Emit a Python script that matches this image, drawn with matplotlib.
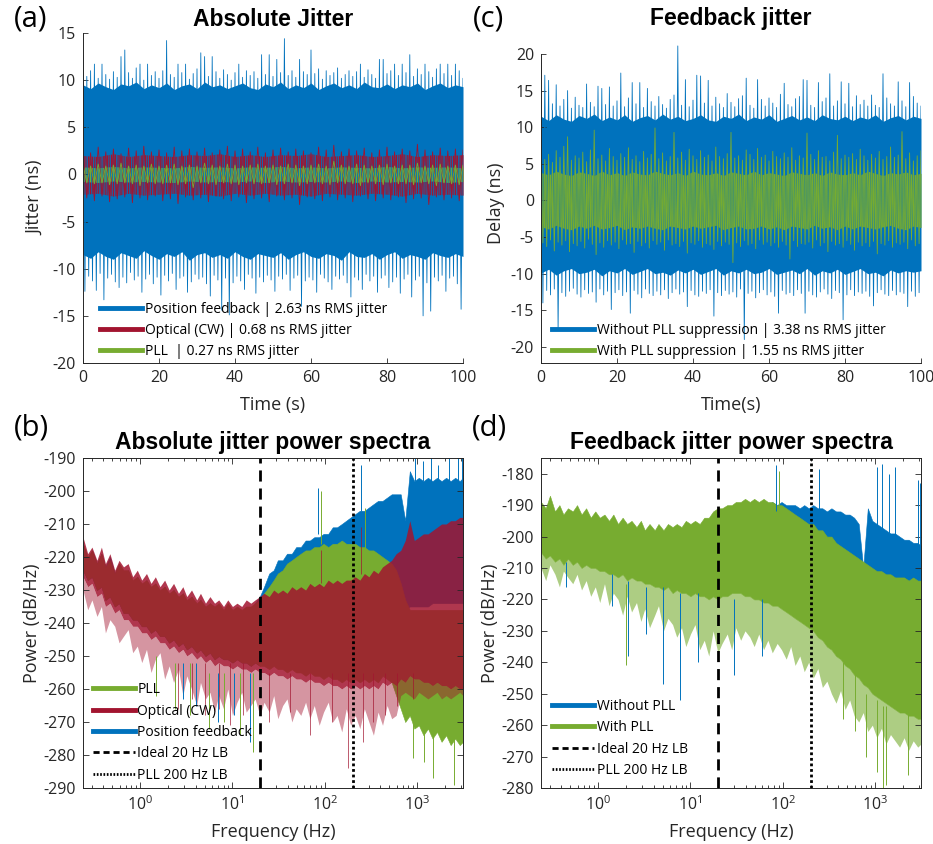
import numpy as np
import matplotlib
matplotlib.use("Agg")
import matplotlib.pyplot as plt
from matplotlib.lines import Line2D

plt.rcParams['font.family'] = ['Open Sans', 'DejaVu Sans']
plt.rcParams['mathtext.default'] = 'regular'
plt.rcParams['axes.unicode_minus'] = False

BLUE = '#0072BD'
RED = '#A2142F'
GREEN = '#77AC30'
AXC = '#262626'

# ---------------- (a) absolute jitter, peak values per time bin (ns)
a_pos_hi = [12.6, 10.4, 11.0, 11.7, 10.2, 11.7, 10.6, 10.1, 10.9, 10.3,
            12.5, 13.2, 10.8, 10.2, 11.3, 11.7, 10.0, 11.7, 10.5, 10.9,
            10.2, 11.0, 14.2, 10.6, 10.3, 11.7, 10.8, 11.7, 10.1, 10.7,
            11.2, 12.9, 12.5, 10.4, 12.5, 10.9, 10.2, 11.1, 10.6, 10.0,
            10.8, 11.7, 10.3, 11.0, 10.5, 10.9, 10.2, 12.7, 10.6, 12.7,
            10.4, 12.2, 10.8, 14.4, 10.5, 11.0, 10.3, 12.2, 10.9, 10.6,
            13.2, 10.7, 11.2, 10.1, 11.0, 10.5, 10.8, 11.3, 10.2, 10.6,
            11.0, 10.4, 10.9, 11.7, 10.3, 11.1, 10.6, 10.2, 12.2, 12.2,
            10.7, 11.0, 11.7, 10.5, 11.7, 10.8, 12.7, 10.4, 11.2, 10.6,
            11.7, 10.9, 10.3, 11.2, 11.7, 10.7, 11.7, 10.5, 11.7, 11.0, 10.2]
a_pos_lo = [-12.4, -10.8, -11.3, -12.3, -10.5, -13.3, -11.0, -10.6, -11.4, -12.0,
            -10.9, -11.5, -10.4, -11.2, -10.8, -12.5, -11.1, -10.6, -11.6, -10.9,
            -12.8, -10.7, -11.3, -10.5, -12.2, -11.0, -10.8, -12.5, -11.4, -10.6,
            -11.1, -10.9, -11.6, -12.9, -10.7, -11.2, -14.4, -11.0, -14.9, -11.5,
            -10.8, -11.3, -12.2, -10.6, -11.0, -12.6, -10.9, -11.4, -10.7, -11.2,
            -12.4, -10.8, -11.1, -10.6, -12.3, -11.0, -10.7, -14.0, -11.3, -10.9,
            -11.2, -12.5, -10.6, -11.0, -11.4, -12.2, -10.8, -11.1, -10.7, -11.5,
            -13.0, -10.9, -11.2, -12.2, -10.6, -11.3, -10.8, -12.5, -11.0, -10.7,
            -12.0, -11.4, -10.9, -12.6, -11.1, -10.6, -13.0, -11.2, -10.8, -15.0,
            -11.5, -14.5, -10.9, -11.3, -10.7, -12.4, -11.0, -10.8, -11.6, -14.3, -10.9]
a_pos_core_hi = [9.5, 9.1, 9.7, 9.3, 9.0, 9.6, 9.4, 9.8, 9.1, 9.5,
                 9.2, 9.7, 9.0, 9.4, 9.6, 9.1, 9.8, 9.3, 9.5, 9.1,
                 9.4, 9.7, 9.2, 9.0, 9.6, 9.3, 9.8, 9.1, 9.5, 9.2,
                 9.7, 9.0, 9.4, 9.7, 9.2, 9.5, 9.1, 9.8, 9.3, 9.2,
                 9.6, 9.1, 9.5, 9.3, 9.7, 9.0, 9.4, 9.7, 9.2, 9.5, 9.3]
a_pos_core_lo = [-8.5, -8.9, -8.2, -8.7, -9.0, -8.3, -8.6, -8.9, -8.1, -8.6,
                 -9.0, -8.4, -8.7, -8.2, -9.1, -8.5, -8.3, -8.8, -8.5, -8.9,
                 -8.2, -8.7, -9.0, -8.4, -8.6, -8.8, -8.3, -9.0, -8.5, -8.2,
                 -8.7, -8.9, -8.4, -8.6, -9.1, -8.2, -8.7, -8.8, -8.4, -9.0,
                 -8.5, -8.2, -8.9, -8.5, -8.7, -9.0, -8.3, -8.6, -8.8, -8.4, -8.7]

a_opt_hi = [2.6, 2.3, 2.9, 2.4, 2.7, 2.2, 2.8, 2.5, 3.0, 2.4,
            2.6, 2.3, 2.9, 2.5, 2.7, 2.4, 2.8, 2.3, 2.6, 3.0,
            2.5, 2.7, 2.4, 2.9, 2.3, 2.6, 2.8, 2.4, 2.7, 2.5,
            2.3, 2.9, 2.6, 3.1, 2.4, 2.7, 2.5, 2.8, 2.3, 2.6,
            2.9, 2.4, 2.7, 2.5, 3.2, 2.6, 2.4, 2.8, 2.5, 2.7, 2.6]
a_opt_lo = [-2.5, -2.8, -2.3, -2.9, -2.6, -2.4, -3.0, -2.5, -2.7, -2.3,
            -2.8, -2.6, -3.1, -2.4, -2.7, -2.5, -2.9, -2.3, -2.6, -2.8,
            -2.4, -3.0, -2.6, -2.5, -2.9, -2.3, -2.7, -2.5, -3.2, -2.4,
            -2.6, -2.8, -2.4, -2.7, -2.5, -2.9, -2.3, -2.6, -2.8, -2.5,
            -2.7, -2.4, -3.0, -2.6, -2.5, -3.2, -2.4, -2.7, -2.5, -2.8, -2.6]
a_opt_core_hi = [2.0, 1.9, 2.2, 1.9, 2.1, 2.0, 1.9, 2.1, 2.0, 2.2, 1.9, 2.1, 1.9,
                 2.1, 2.0, 2.2, 1.9, 2.0, 2.1, 1.9, 2.0, 2.2, 1.9, 2.1, 2.0, 2.1]
a_opt_core_lo = [-2.1, -2.0, -2.3, -2.0, -2.2, -2.1, -2.0, -2.2, -2.1, -2.3, -2.0, -2.2, -2.0,
                 -2.2, -2.1, -2.3, -2.0, -2.1, -2.2, -2.0, -2.1, -2.3, -2.0, -2.2, -2.1, -2.2]

a_pll_hi = [1.0, 0.9, 1.1, 0.9, 1.0, 1.2, 0.9, 1.0, 0.9, 1.1,
            0.9, 1.0, 1.1, 0.9, 1.0, 0.9, 1.2, 1.0, 0.9, 1.1,
            1.0, 0.9, 1.0, 1.1, 0.9, 1.0, 0.9, 1.1, 1.0, 0.9,
            1.0, 1.1, 0.9, 1.4, 1.0, 0.9, 1.1, 1.0, 0.9, 1.0,
            1.1, 0.9, 1.0, 1.0, 1.2, 0.9, 1.0, 1.1, 0.9, 1.0, 1.0]
a_pll_lo = [-0.9, -1.0, -0.9, -1.1, -1.0, -0.9, -1.0, -1.2, -0.9, -1.0,
            -1.0, -0.9, -1.1, -1.0, -1.4, -0.9, -1.0, -1.1, -0.9, -1.0,
            -1.1, -0.9, -1.0, -1.0, -0.9, -1.1, -1.0, -0.9, -1.2, -1.0,
            -0.9, -1.0, -1.1, -0.9, -1.0, -1.0, -1.2, -0.9, -1.0, -1.1,
            -0.9, -1.0, -1.0, -1.1, -0.9, -1.0, -1.2, -0.9, -1.0, -1.1, -1.0]
a_pll_core_hi = [0.8, 0.7, 0.85, 0.7, 0.8, 0.75, 0.7, 0.85, 0.75, 0.8, 0.7, 0.8, 0.75,
                 0.85, 0.7, 0.8, 0.7, 0.8, 0.75, 0.7, 0.85, 0.7, 0.8, 0.75, 0.8, 0.7]
a_pll_core_lo = [-0.75, -0.85, -0.7, -0.8, -0.75, -0.8, -0.85, -0.7, -0.8, -0.75, -0.8, -0.7, -0.85,
                 -0.7, -0.8, -0.75, -0.8, -0.7, -0.85, -0.7, -0.8, -0.75, -0.8, -0.7, -0.85, -0.75]

a_labels = ["Position feedback | 2.63 ns RMS jitter",
            "Optical (CW) | 0.68 ns RMS jitter",
            "PLL  | 0.27 ns RMS jitter"]

# ---------------- (c) feedback jitter (ns)
c_nopll_hi = [18.8, 17.1, 16.4, 13.2, 15.8, 12.9, 13.8, 15.0, 12.6, 14.1,
              13.0, 12.7, 15.9, 13.4, 12.8, 15.6, 15.3, 13.1, 15.5, 12.9,
              13.6, 17.4, 12.8, 14.0, 16.1, 13.2, 16.1, 12.7, 15.3, 13.5,
              12.9, 14.2, 13.1, 12.6, 13.8, 14.4, 21.1, 13.0, 16.5, 12.8,
              13.7, 17.1, 17.0, 13.3, 16.4, 12.9, 14.1, 13.2, 12.7, 14.6,
              13.4, 12.8, 13.9, 14.3, 16.7, 13.0, 12.6, 16.5, 13.8, 12.9,
              14.0, 13.3, 12.7, 14.5, 16.0, 13.1, 12.8, 13.9, 14.2, 16.5,
              16.4, 13.0, 12.7, 16.1, 13.5, 14.0, 17.3, 12.9, 13.6, 16.2,
              13.2, 16.0, 12.8, 14.3, 13.1, 13.7, 12.9, 14.4, 13.0, 12.7,
              17.3, 14.0, 13.2, 12.9, 16.2, 13.6, 12.8, 16.1, 14.2, 13.3, 12.9]
c_nopll_lo = [-14.0, -12.3, -12.9, -12.1, -17.8, -12.6, -13.1, -12.4, -12.0, -12.8,
              -13.2, -12.2, -12.7, -12.5, -13.9, -12.1, -12.9, -12.4, -14.9, -12.6,
              -12.2, -13.0, -12.5, -15.4, -12.3, -12.8, -13.3, -12.1, -12.7, -13.0,
              -12.4, -12.9, -12.2, -13.4, -12.6, -12.1, -12.8, -12.5, -14.5, -12.3,
              -12.9, -13.1, -12.4, -12.7, -12.2, -15.8, -12.6, -13.0, -12.3, -12.8,
              -12.5, -13.2, -12.1, -19.0, -12.7, -12.4, -13.3, -12.6, -12.2, -12.9,
              -12.5, -13.1, -15.4, -12.3, -12.8, -12.6, -13.0, -12.2, -12.7, -15.4,
              -12.4, -12.9, -13.2, -12.5, -12.1, -12.8, -13.4, -12.3, -12.6, -16.3,
              -12.9, -12.2, -13.0, -12.5, -12.7, -12.4, -13.1, -14.4, -12.6, -12.2,
              -12.8, -13.0, -12.3, -12.9, -12.5, -12.7, -14.5, -12.4, -13.1, -12.6, -12.2]
c_nopll_core_hi = [11.5, 10.9, 11.7, 11.1, 10.8, 11.6, 11.2, 11.8, 10.9, 11.4,
                   11.0, 11.7, 10.8, 11.3, 11.6, 11.0, 11.8, 11.1, 11.5, 10.9,
                   11.2, 11.7, 11.0, 10.8, 11.5, 11.2, 11.8, 10.9, 11.4, 11.1,
                   11.7, 10.8, 11.2, 11.6, 11.0, 11.4, 10.9, 11.7, 11.2, 11.0,
                   11.5, 10.9, 11.4, 11.1, 11.7, 10.8, 11.3, 11.6, 11.0, 11.5, 11.2]
c_nopll_core_lo = [-9.9, -9.4, -10.2, -9.6, -9.3, -10.0, -9.8, -9.4, -10.3, -9.6,
                   -9.9, -9.3, -10.1, -9.7, -9.3, -10.0, -9.8, -10.2, -9.5, -9.9,
                   -9.4, -10.1, -9.7, -9.3, -10.2, -9.6, -9.9, -9.4, -10.0, -9.8,
                   -9.3, -10.1, -9.8, -9.5, -10.0, -9.3, -10.2, -9.6, -9.9, -9.4,
                   -10.1, -9.7, -9.3, -10.0, -9.8, -10.3, -9.5, -9.9, -9.6, -9.8, -9.6]

c_pll_hi = [7.0, 5.6, 6.3, 5.2, 6.8, 5.9, 7.4, 8.7, 5.5, 6.1,
            5.8, 6.6, 5.3, 6.9, 9.6, 5.7, 6.2, 5.4, 7.1, 6.0,
            5.5, 6.4, 5.9, 7.2, 5.6, 6.1, 5.3, 6.7, 5.8, 6.3,
            9.9, 5.7, 6.5, 5.4, 6.0, 9.3, 5.8, 6.6, 5.5, 7.0,
            6.1, 5.6, 6.8, 5.9, 6.2, 5.4, 7.3, 6.0, 5.7, 6.4,
            9.3, 5.8, 6.1, 5.5, 6.9, 6.3, 5.6, 7.1, 5.9, 6.2,
            5.4, 6.7, 6.0, 5.7, 6.5, 5.9, 7.2, 5.5, 6.1, 5.8,
            9.2, 6.3, 5.6, 6.8, 5.9, 6.0, 5.4, 6.6, 8.9, 5.7,
            6.2, 5.9, 6.4, 5.6, 7.0, 6.1, 5.5, 6.3, 5.8, 6.7,
            5.6, 6.0, 7.3, 5.9, 6.2, 9.4, 5.7, 6.5, 5.4, 6.1, 6.8]
c_pll_lo = [-5.8, -6.3, -5.4, -6.9, -5.7, -6.1, -5.5, -7.0, -5.9, -6.2,
            -5.6, -6.5, -5.3, -6.0, -7.4, -5.8, -6.4, -5.5, -6.1, -5.7,
            -6.6, -5.4, -6.0, -5.9, -7.1, -5.6, -6.2, -5.8, -6.5, -5.5,
            -6.0, -5.7, -6.8, -5.4, -6.1, -5.9, -6.3, -5.6, -7.2, -5.8,
            -6.0, -5.5, -6.4, -5.9, -6.1, -6.7, -5.6, -6.2, -5.7, -6.0,
            -8.5, -5.8, -6.3, -5.5, -6.1, -5.9, -6.6, -5.4, -6.0, -5.7,
            -6.2, -5.8, -6.4, -5.6, -6.1, -8.0, -5.5, -6.3, -5.9, -6.0,
            -5.7, -6.5, -5.4, -6.2, -5.8, -7.0, -5.6, -6.1, -5.9, -6.4,
            -5.5, -6.0, -6.8, -5.7, -6.2, -5.8, -6.3, -5.6, -7.3, -5.9,
            -6.1, -5.5, -6.4, -5.8, -6.0, -5.7, -6.6, -5.4, -6.2, -5.9, -6.0]
c_pll_core_hi = [3.8, 3.5, 4.0, 3.6, 3.4, 3.9, 3.7, 3.4, 4.0, 3.5,
                 3.8, 3.4, 3.9, 3.6, 3.5, 4.0, 3.7, 3.5, 3.8, 3.4,
                 4.0, 3.6, 3.5, 3.8, 3.4, 3.9, 3.7, 3.5, 4.0, 3.5,
                 3.8, 3.6, 3.4, 3.9, 3.7, 3.5, 3.8, 3.4, 3.9, 3.6,
                 3.5, 3.8, 3.5, 4.0, 3.7, 3.4, 3.8, 3.6, 3.9, 3.5, 3.7]
c_pll_core_lo = [-3.6, -3.9, -3.4, -3.8, -4.0, -3.5, -3.8, -3.4, -3.9, -3.7,
                 -3.4, -4.0, -3.6, -3.8, -3.5, -3.8, -4.0, -3.5, -3.7, -3.9,
                 -3.5, -3.8, -3.6, -3.4, -4.0, -3.7, -3.5, -3.9, -3.8, -3.5,
                 -3.9, -3.6, -4.0, -3.5, -3.7, -3.9, -3.4, -3.8, -3.6, -4.0,
                 -3.5, -3.9, -3.5, -3.7, -3.9, -3.6, -3.4, -3.8, -4.0, -3.5, -3.7]

c_labels = ["Without PLL suppression | 3.38 ns RMS jitter",
            "With PLL suppression | 1.55 ns RMS jitter"]

# ---------------- spectra: frequency bins (Hz) and band edges (dB/Hz)
freq = [0.24, 0.27, 0.30, 0.34, 0.38, 0.42, 0.47, 0.53, 0.59, 0.66,
        0.74, 0.83, 0.93, 1.04, 1.17, 1.31, 1.46, 1.64, 1.84, 2.06,
        2.3, 2.6, 2.9, 3.2, 3.6, 4.1, 4.5, 5.1, 5.7, 6.4,
        7.1, 8.0, 8.9, 10.0, 11.2, 12.6, 14.1, 15.8, 17.6, 19.8,
        22, 25, 28, 31, 35, 39, 44, 49, 55, 62,
        69, 77, 87, 97, 109, 122, 136, 153, 171, 191,
        214, 240, 269, 301, 337, 378, 423, 474, 531, 594,
        666, 745, 835, 935, 1047, 1173, 1314, 1471, 1648, 1845,
        2067, 2315, 2593, 2904, 3150]

# (b)
b_opt_hi = [-214, -219, -217, -221, -217, -222, -219, -224, -221, -223,
            -222, -226, -224, -227, -225, -228, -226, -229, -227, -230,
            -228, -231, -229, -232, -230, -233, -231, -234, -232, -234,
            -233, -235, -233, -235, -234, -235, -233, -234, -233, -232,
            -231, -232, -230, -231, -230, -231, -229, -230, -229, -230,
            -228, -229, -228, -229, -227, -228, -227, -228, -227, -227,
            -226, -227, -225, -226, -224, -225, -223, -222, -221, -219,
            -218, -215, -209, -215, -214, -213, -213, -212, -211, -210,
            -210, -209, -209, -208, -208]
b_opt_lo = [-226, -229, -228, -232, -231, -235, -234, -237, -236, -239,
            -239, -241, -241, -243, -243, -245, -244, -246, -246, -248,
            -247, -249, -248, -250, -249, -251, -250, -252, -251, -253,
            -252, -253, -253, -254, -253, -254, -254, -255, -254, -255,
            -255, -256, -255, -256, -256, -257, -256, -257, -257, -258,
            -257, -258, -258, -259, -258, -259, -259, -260, -259, -260,
            -259, -260, -259, -260, -259, -260, -258, -259, -258, -259,
            -257, -258, -256, -257, -257, -258, -258, -259, -258, -259,
            -259, -260, -259, -260, -260]
b_opt_spread_lo = [-230, -236, -233, -238, -235, -243, -239, -241, -246, -244,
                   -242, -249, -247, -252, -248, -255, -251, -249, -257, -253,
                   -258, -254, -262, -256, -260, -265, -258, -263, -261, -267,
                   -262, -266, -260, -268, -264, -261, -267, -265, -263, -268,
                   -264, -267, -262, -269, -265, -263, -270, -266, -268, -264,
                   -269, -265, -271, -267, -264, -270, -268, -273, -266, -271,
                   -268, -272, -266, -270, -274, -267, -271, -265, -269, -268,
                   -262, -261, -262, -263, -261, -262, -263, -262, -261, -263,
                   -262, -263, -262, -261, -262]
b_pll_hi = [-216, -220, -218, -222, -219, -223, -221, -225, -222, -224,
            -224, -227, -226, -228, -227, -229, -228, -230, -229, -231,
            -230, -232, -231, -233, -232, -234, -233, -235, -234, -235,
            -234, -236, -234, -236, -235, -236, -235, -235, -234, -233,
            -231, -229, -227, -225, -224, -222, -221, -220, -219, -218,
            -218, -217, -217, -216, -217, -216, -216, -215, -216, -216,
            -216, -217, -217, -218, -218, -219, -220, -221, -222, -224,
            -228, -233, -236, -236, -236, -236, -236, -236, -236, -236,
            -236, -236, -236, -236, -236]
b_pll_lo = [-224, -227, -226, -230, -229, -233, -232, -235, -234, -237,
            -237, -239, -239, -241, -241, -243, -242, -244, -244, -246,
            -245, -247, -246, -248, -247, -249, -248, -250, -249, -251,
            -250, -251, -251, -252, -251, -252, -252, -253, -252, -253,
            -253, -254, -253, -254, -254, -255, -254, -255, -255, -256,
            -255, -256, -256, -257, -256, -257, -257, -258, -257, -258,
            -257, -258, -257, -258, -257, -258, -256, -257, -258, -262,
            -266, -270, -268, -272, -271, -274, -272, -275, -273, -276,
            -274, -277, -275, -277, -276]
b_pos_hi = [-216, -221, -218, -222, -219, -223, -220, -225, -222, -225,
            -224, -228, -226, -229, -227, -230, -228, -231, -229, -232,
            -230, -233, -231, -234, -232, -235, -233, -236, -234, -236,
            -235, -237, -235, -237, -236, -237, -235, -236, -234, -232,
            -229, -225, -224, -221, -221, -219, -219, -217, -217, -215,
            -215, -214, -214, -213, -213, -211, -211, -210, -209, -208,
            -207, -206, -206, -205, -204, -203, -203, -202, -201, -201,
            -201, -209, -194, -197, -196, -197, -196, -197, -196, -197,
            -196, -197, -196, -197, -196]
b_pos_lo = [-224, -227, -226, -230, -229, -233, -232, -235, -234, -237,
            -237, -239, -239, -241, -241, -243, -242, -244, -244, -246,
            -245, -247, -246, -248, -247, -249, -248, -250, -249, -251,
            -250, -251, -251, -252, -251, -252, -252, -253, -252, -253,
            -252, -250, -248, -247, -246, -245, -245, -244, -244, -243,
            -243, -242, -242, -241, -241, -240, -240, -240, -239, -239,
            -239, -238, -238, -238, -237, -237, -237, -236, -236, -236,
            -236, -236, -235, -235, -235, -235, -235, -234, -234, -234,
            -234, -234, -234, -234, -234]

# isolated spikes in (b): frequency, bottom, top
b_opt_spk_f = [2.6, 3.6, 5.1, 7.1, 9.5, 13, 25, 42, 70, 120, 180, 260, 330, 450, 600, 900, 90, 250]
b_opt_spk_bot = [-266, -263, -268, -266, -271, -268, -270, -267, -274, -270, -284, -276, -270, -268, -265, -263, -228, -225]
b_opt_spk_top = [-252, -252, -252, -252, -252, -252, -255, -255, -255, -255, -255, -255, -255, -255, -255, -255, -218, -211]
b_pll_spk_f = [1.5, 2.4, 3.5, 5.5, 8.0, 12, 16.6, 900, 1200, 1500, 2500, 90, 270]
b_pll_spk_bot = [-262, -266, -268, -272, -270, -274, -279, -281, -282, -287, -289, -216, -218]
b_pll_spk_top = [-250, -252, -252, -255, -255, -255, -255, -265, -265, -265, -265, -200, -205]
b_pos_spk_f = [85, 250, 950, 1150, 1400, 1700, 2200, 2800, 3100, 2.9, 4.0, 7.0, 10.5, 15.6]
b_pos_spk_bot = [-213, -206, -197, -197, -197, -197, -197, -197, -197, -263, -265, -270, -268, -276]
b_pos_spk_top = [-199, -192, -190, -191, -190, -192, -190, -190, -190, -252, -252, -255, -255, -255]

# (d)
d_pll_hi = [-189, -191, -187, -192, -190, -193, -191, -192, -190, -193,
            -191, -194, -192, -194, -193, -195, -193, -196, -194, -196,
            -195, -197, -195, -198, -196, -198, -196, -198, -196, -197,
            -196, -197, -195, -196, -195, -196, -194, -194, -192, -191,
            -191, -190, -190, -189, -189, -188, -189, -188, -189, -188,
            -189, -189, -190, -190, -191, -192, -193, -194, -195, -196,
            -196, -198, -198, -200, -200, -202, -203, -204, -205, -206,
            -207, -208, -209, -210, -211, -211, -212, -212, -213, -213,
            -213, -214, -213, -214, -214]
d_pll_lo = [-205, -207, -206, -208, -207, -209, -207, -209, -208, -210,
            -209, -210, -210, -211, -211, -212, -212, -213, -212, -214,
            -213, -214, -214, -215, -215, -216, -216, -217, -216, -218,
            -217, -218, -218, -219, -218, -219, -219, -220, -219, -220,
            -219, -219, -218, -218, -218, -219, -219, -220, -220, -221,
            -221, -222, -222, -223, -224, -225, -226, -227, -228, -229,
            -230, -232, -233, -235, -236, -238, -239, -241, -242, -244,
            -245, -247, -248, -250, -251, -252, -253, -254, -255, -256,
            -256, -257, -257, -258, -258]
d_pll_spread_lo = [-210, -214, -209, -212, -216, -211, -213, -215, -212, -217,
                   -214, -219, -216, -221, -215, -222, -218, -220, -225, -219,
                   -224, -221, -227, -223, -229, -225, -222, -230, -226, -228,
                   -232, -229, -235, -231, -228, -236, -233, -238, -230, -237,
                   -234, -231, -236, -229, -233, -230, -232, -235, -231, -236,
                   -233, -237, -234, -236, -239, -235, -241, -238, -243, -240,
                   -245, -242, -248, -246, -250, -253, -249, -255, -252, -257,
                   -259, -256, -262, -260, -264, -261, -266, -263, -265, -267,
                   -264, -268, -265, -267, -266]
d_nopll_hi = [-190, -192, -189, -193, -191, -194, -192, -193, -191, -194,
              -192, -195, -193, -195, -194, -196, -194, -197, -195, -197,
              -196, -198, -196, -199, -197, -199, -197, -199, -197, -198,
              -197, -198, -196, -197, -196, -197, -195, -195, -193, -192,
              -192, -191, -191, -190, -190, -189, -190, -189, -190, -189,
              -190, -189, -190, -189, -190, -190, -190, -191, -190, -191,
              -190, -191, -191, -192, -191, -192, -192, -193, -193, -194,
              -196, -210, -191, -195, -196, -197, -198, -199, -199, -200,
              -201, -201, -202, -202, -203]
d_nopll_lo = [-202, -204, -203, -205, -204, -206, -204, -206, -205, -207,
              -206, -207, -207, -208, -208, -209, -209, -210, -209, -211,
              -210, -211, -211, -212, -212, -213, -213, -214, -213, -215,
              -214, -215, -215, -216, -215, -216, -216, -217, -216, -217,
              -216, -216, -215, -215, -215, -216, -216, -217, -217, -218,
              -218, -219, -219, -220, -221, -222, -223, -224, -225, -226,
              -227, -229, -230, -232, -233, -235, -236, -238, -239, -241,
              -222, -222, -222, -222, -222, -222, -222, -222, -222, -222,
              -222, -222, -222, -222, -222]

d_nopll_spk_f = [84, 245, 1050, 1200, 1400, 1650, 2900, 3100, 0.45, 1.4, 2.1, 3.3, 5.0, 7.7, 12, 30, 60]
d_nopll_spk_bot = [-192, -193, -198, -198, -199, -200, -203, -203, -216, -222, -238, -231, -247, -252, -240, -244, -238]
d_nopll_spk_top = [-177.3, -178.4, -178, -177, -180, -178, -182, -183, -208, -212, -214, -216, -216, -218, -218, -220, -220]
d_pll_spk_f = [90, 2.0, 450, 600, 800, 1050, 1230, 1300, 2300]
d_pll_spk_bot = [-190, -241, -258, -262, -270, -275, -280, -279, -276]
d_pll_spk_top = [-179, -215, -240, -243, -250, -252, -254, -254, -256]

b_labels = ["PLL", "Optical (CW)", "Position feedback", "Ideal 20 Hz LB", "PLL 200 Hz LB"]
d_labels = ["Without PLL", "With PLL", "Ideal 20 Hz LB", "PLL 200 Hz LB"]
ideal_lb = 20
pll_lb = 200


def noisy_trace(ax, hi, lo, color, lw=0.6):
    # alternate between the per-bin maxima and minima
    t = np.linspace(0, 100, len(hi))
    half = (t[1] - t[0]) / 2
    x = np.empty(2 * len(t))
    y = np.empty(2 * len(t))
    x[0::2] = t
    x[1::2] = t + half
    y[0::2] = hi
    y[1::2] = lo
    ax.plot(x, y, color=color, lw=lw)


def dense_core(ax, hi, lo, color):
    t = np.linspace(0, 100, len(hi))
    ax.fill_between(t, lo, hi, color=color, lw=0)


def style_time(ax):
    ax.set_xlim(0, 100)
    for s in ['top', 'right']:
        ax.spines[s].set_visible(False)
    for s in ['left', 'bottom']:
        ax.spines[s].set_color(AXC)
        ax.spines[s].set_linewidth(0.7)
    ax.set_xticks(range(0, 101, 20))
    ax.tick_params(direction='in', length=3.5, width=0.6, labelsize=11.5,
                   colors=AXC, pad=5)


def style_spec(ax):
    ax.set_xscale('log')
    ax.set_xlim(0.24, 3150)
    for s in ax.spines.values():
        s.set_color(AXC)
        s.set_linewidth(0.7)
    ax.tick_params(which='both', direction='in', top=True, right=True,
                   width=0.6, colors=AXC, labelsize=11.5)
    ax.tick_params(which='major', length=4, pad=5)
    ax.tick_params(which='minor', length=2)
    ax.set_xlabel('Frequency (Hz)', fontsize=13, color=AXC, labelpad=7)
    ax.set_ylabel('Power (dB/Hz)', fontsize=13, color=AXC, labelpad=2)
    ax.axvline(ideal_lb, color='k', lw=2, ls=(0, (4, 2.5)))
    ax.axvline(pll_lb, color='k', lw=2, ls=(0, (1, 1)))


def spec_legend(ax, colors, labels, anchor):
    handles = [Line2D([], [], color=c, lw=3.5) for c in colors]
    handles += [Line2D([], [], color='k', lw=2, ls=(0, (2.2, 1.4))),
                Line2D([], [], color='k', lw=2, ls=(0, (0.6, 0.6)))]
    ax.legend(handles, labels, loc='lower left', bbox_to_anchor=anchor,
              frameon=False, fontsize=10, handlelength=3.0, handletextpad=0.2,
              labelspacing=0.46, borderpad=0, borderaxespad=0)


fig = plt.figure(figsize=(9.33, 8.44), dpi=100)
W, H = 933.0, 844.0


def add_axes(x0, x1, y0, y1):
    return fig.add_axes([x0 / W, 1 - y1 / H, (x1 - x0) / W, (y1 - y0) / H])


ax_a = add_axes(83, 463, 33, 363)
ax_c = add_axes(541, 921, 43, 363)
ax_b = add_axes(83, 463, 458, 788)
ax_d = add_axes(541, 921, 458, 788)

# ---- (a)
dense_core(ax_a, a_pos_core_hi, a_pos_core_lo, BLUE)
noisy_trace(ax_a, a_pos_hi, a_pos_lo, BLUE)
dense_core(ax_a, a_opt_core_hi, a_opt_core_lo, RED)
noisy_trace(ax_a, a_opt_hi, a_opt_lo, RED)
dense_core(ax_a, a_pll_core_hi, a_pll_core_lo, GREEN)
noisy_trace(ax_a, a_pll_hi, a_pll_lo, GREEN)
style_time(ax_a)
ax_a.set_ylim(-20, 15)
ax_a.set_yticks(range(-20, 16, 5))
ax_a.set_xlabel('Time (s)', fontsize=13, color=AXC, labelpad=7)
ax_a.set_ylabel('Jitter (ns)', fontsize=13, color=AXC, labelpad=6)
ax_a.legend([Line2D([], [], color=c, lw=3.5) for c in (BLUE, RED, GREEN)], a_labels,
            loc='lower left', bbox_to_anchor=(0.045, 0.012), frameon=False,
            fontsize=10, handlelength=3.0, handletextpad=0.2,
            labelspacing=0.45, borderpad=0, borderaxespad=0)

# ---- (c)
dense_core(ax_c, c_nopll_core_hi, c_nopll_core_lo, BLUE)
noisy_trace(ax_c, c_nopll_hi, c_nopll_lo, BLUE)
dense_core(ax_c, c_pll_core_hi, c_pll_core_lo, GREEN)
noisy_trace(ax_c, c_pll_hi, c_pll_lo, GREEN)
style_time(ax_c)
ax_c.set_ylim(-22.2, 21.5)
ax_c.spines['left'].set_bounds(-22.2, 20)
ax_c.set_yticks(range(-20, 21, 5))
ax_c.set_xlabel('Time(s)', fontsize=13, color=AXC, labelpad=7)
ax_c.set_ylabel('Delay (ns)', fontsize=13, color=AXC, labelpad=4)
ax_c.legend([Line2D([], [], color=c, lw=3.5) for c in (BLUE, GREEN)], c_labels,
            loc='lower left', bbox_to_anchor=(0.03, 0.012), frameon=False,
            fontsize=10, handlelength=3.0, handletextpad=0.2,
            labelspacing=0.45, borderpad=0, borderaxespad=0)

# ---- (b)
ax_b.fill_between(freq, b_pos_lo, b_pos_hi, color=BLUE, lw=0.4)
ax_b.vlines(b_pos_spk_f, b_pos_spk_bot, b_pos_spk_top, color=BLUE, lw=0.7)
ax_b.fill_between(freq, b_pll_lo, b_pll_hi, color=GREEN, lw=0.4)
ax_b.vlines(b_pll_spk_f, b_pll_spk_bot, b_pll_spk_top, color=GREEN, lw=0.7)
ax_b.fill_between(freq, b_opt_spread_lo, b_opt_lo, color=RED, lw=0, alpha=0.45)
ax_b.fill_between(freq, b_opt_lo, b_opt_hi, color=RED, lw=0, alpha=0.85)
ax_b.vlines(b_opt_spk_f, b_opt_spk_bot, b_opt_spk_top, color=RED, lw=0.7, alpha=0.7)
style_spec(ax_b)
ax_b.set_ylim(-290, -190)
ax_b.set_yticks(range(-290, -189, 10))
spec_legend(ax_b, (GREEN, RED, BLUE), b_labels, (0.026, 0.016))

# ---- (d)
ax_d.fill_between(freq, d_nopll_lo, d_nopll_hi, color=BLUE, lw=0.4)
ax_d.vlines(d_nopll_spk_f, d_nopll_spk_bot, d_nopll_spk_top, color=BLUE, lw=0.7)
ax_d.fill_between(freq, d_pll_spread_lo, d_pll_lo, color=GREEN, lw=0, alpha=0.6)
ax_d.fill_between(freq, d_pll_lo, d_pll_hi, color=GREEN, lw=0.4)
ax_d.vlines(d_pll_spk_f, d_pll_spk_bot, d_pll_spk_top, color=GREEN, lw=0.7)
style_spec(ax_d)
ax_d.set_ylim(-280, -175)
ax_d.set_yticks(range(-280, -179, 10))
spec_legend(ax_d, (BLUE, GREEN), d_labels, (0.03, 0.03))

# ---- titles and panel letters
title_kw = dict(family=['Liberation Sans', 'DejaVu Sans'], weight='bold',
                fontsize=16.5, ha='center', va='center')
fig.text(273 / W, 1 - 19 / H, 'Absolute Jitter', **title_kw)
fig.text(731 / W, 1 - 19 / H, 'Feedback jitter', **title_kw)
fig.text(273 / W, 1 - 443 / H, 'Absolute jitter power spectra', **title_kw)
fig.text(731 / W, 1 - 443 / H, 'Feedback jitter power spectra', **title_kw)
for txt, x, y in [('(a)', 31, 19), ('(c)', 489, 19), ('(b)', 31, 428), ('(d)', 489, 428)]:
    fig.text(x / W, 1 - y / H, txt, fontsize=21, ha='center', va='center')

fig.savefig('out.png', dpi=100)
